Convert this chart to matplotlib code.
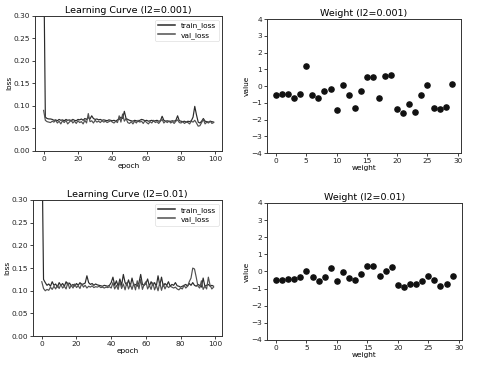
import matplotlib
matplotlib.use("Agg")
import matplotlib.pyplot as plt
import numpy as np

epochs = list(range(100))
weight_idx = list(range(30))

train_loss_001 = [0.45, 0.075, 0.072, 0.071, 0.071, 0.070, 0.068, 0.069, 0.067, 0.070,
                  0.068, 0.069, 0.067, 0.070, 0.068, 0.069, 0.066, 0.070, 0.068, 0.067,
                  0.070, 0.069, 0.071, 0.068, 0.072, 0.070, 0.074, 0.071, 0.078, 0.072,
                  0.070, 0.071, 0.069, 0.070, 0.068, 0.069, 0.068, 0.067, 0.069, 0.068,
                  0.067, 0.068, 0.066, 0.069, 0.070, 0.075, 0.072, 0.088, 0.072, 0.070,
                  0.068, 0.067, 0.066, 0.068, 0.067, 0.065, 0.068, 0.070, 0.069, 0.067,
                  0.068, 0.066, 0.067, 0.068, 0.066, 0.067, 0.068, 0.066, 0.067, 0.077,
                  0.068, 0.066, 0.067, 0.065, 0.066, 0.067, 0.066, 0.068, 0.078, 0.067,
                  0.066, 0.065, 0.066, 0.064, 0.066, 0.065, 0.067, 0.075, 0.099, 0.080,
                  0.064, 0.062, 0.066, 0.072, 0.066, 0.065, 0.064, 0.066, 0.065, 0.064]
val_loss_001 = [0.090, 0.068, 0.065, 0.064, 0.063, 0.066, 0.064, 0.068, 0.062, 0.066,
                0.060, 0.067, 0.063, 0.068, 0.060, 0.064, 0.069, 0.062, 0.066, 0.061,
                0.067, 0.063, 0.065, 0.060, 0.068, 0.062, 0.083, 0.065, 0.067, 0.062,
                0.068, 0.064, 0.066, 0.063, 0.067, 0.064, 0.066, 0.063, 0.065, 0.067,
                0.064, 0.062, 0.066, 0.063, 0.078, 0.064, 0.082, 0.066, 0.072, 0.063,
                0.061, 0.065, 0.060, 0.066, 0.062, 0.068, 0.064, 0.066, 0.061, 0.067,
                0.063, 0.060, 0.065, 0.062, 0.068, 0.063, 0.065, 0.061, 0.066, 0.070,
                0.062, 0.066, 0.063, 0.067, 0.062, 0.065, 0.061, 0.066, 0.069, 0.063,
                0.062, 0.065, 0.061, 0.064, 0.063, 0.060, 0.066, 0.064, 0.068, 0.062,
                0.055, 0.056, 0.063, 0.070, 0.060, 0.064, 0.062, 0.066, 0.061, 0.063]
train_loss_01 = [0.45, 0.125, 0.118, 0.112, 0.115, 0.110, 0.120, 0.112, 0.115, 0.108,
                 0.118, 0.112, 0.116, 0.110, 0.120, 0.113, 0.117, 0.111, 0.114, 0.110,
                 0.116, 0.112, 0.118, 0.113, 0.115, 0.117, 0.133, 0.118, 0.114, 0.116,
                 0.112, 0.115, 0.113, 0.112, 0.111, 0.110, 0.112, 0.111, 0.110, 0.112,
                 0.118, 0.130, 0.112, 0.122, 0.110, 0.126, 0.112, 0.136, 0.118, 0.112,
                 0.124, 0.110, 0.128, 0.112, 0.114, 0.110, 0.118, 0.136, 0.114, 0.112,
                 0.116, 0.126, 0.110, 0.120, 0.112, 0.118, 0.110, 0.133, 0.112, 0.130,
                 0.110, 0.116, 0.112, 0.120, 0.110, 0.114, 0.112, 0.118, 0.111, 0.110,
                 0.108, 0.110, 0.112, 0.114, 0.110, 0.116, 0.112, 0.118, 0.112, 0.110,
                 0.114, 0.112, 0.108, 0.128, 0.110, 0.112, 0.114, 0.110, 0.112, 0.110]
val_loss_01 = [0.120, 0.105, 0.100, 0.103, 0.101, 0.108, 0.103, 0.110, 0.104, 0.112,
               0.105, 0.114, 0.106, 0.110, 0.104, 0.118, 0.105, 0.112, 0.106, 0.115,
               0.107, 0.111, 0.105, 0.116, 0.108, 0.112, 0.106, 0.110, 0.108, 0.111,
               0.107, 0.109, 0.108, 0.110, 0.107, 0.108, 0.106, 0.108, 0.107, 0.109,
               0.106, 0.118, 0.104, 0.112, 0.103, 0.120, 0.105, 0.115, 0.102, 0.118,
               0.104, 0.114, 0.103, 0.116, 0.102, 0.122, 0.104, 0.125, 0.103, 0.114,
               0.120, 0.104, 0.112, 0.103, 0.118, 0.102, 0.112, 0.100, 0.118, 0.101,
               0.115, 0.104, 0.112, 0.107, 0.110, 0.108, 0.106, 0.108, 0.104, 0.102,
               0.106, 0.104, 0.112, 0.106, 0.110, 0.120, 0.128, 0.150, 0.148, 0.130,
               0.110, 0.106, 0.122, 0.103, 0.110, 0.104, 0.130, 0.112, 0.104, 0.108]

weights_001 = [-0.5, -0.45, -0.45, -0.72, -0.48, 1.22, -0.55, -0.7, -0.3, -0.15,
               -1.4, 0.05, -0.52, -1.3, -0.28, 0.52, 0.52, -0.68, 0.6, 0.65,
               -1.38, -1.58, -1.08, -1.52, -0.5, 0.08, -1.3, -1.35, -1.25, 0.12]
weights_01 = [-0.48, -0.5, -0.45, -0.45, -0.32, 0.05, -0.35, -0.58, -0.32, 0.22,
              -0.55, -0.05, -0.4, -0.5, -0.15, 0.32, 0.32, -0.25, 0.02, 0.28,
              -0.8, -0.92, -0.75, -0.75, -0.58, -0.25, -0.5, -0.88, -0.72, -0.28]

plt.rcParams['font.family'] = ['DejaVu Sans']
fig = plt.figure(figsize=(4.8, 3.69), dpi=100)

ax_tl = fig.add_axes([0.073, 0.591, 0.390, 0.366])
ax_tr = fig.add_axes([0.556, 0.585, 0.404, 0.363])
ax_bl = fig.add_axes([0.069, 0.089, 0.394, 0.369])
ax_br = fig.add_axes([0.556, 0.079, 0.406, 0.371])

fs_tick = 5.3
fs_label = 5.3
fs_title = 6.8

def style(ax):
    ax.tick_params(labelsize=fs_tick, length=2, width=0.6, pad=1.5, colors='#222222')
    for s in ax.spines.values():
        s.set_linewidth(0.7)
        s.set_color('#333333')

for ax, tr, va, title in [(ax_tl, train_loss_001, val_loss_001, 'Learning Curve (l2=0.001)'),
                          (ax_bl, train_loss_01, val_loss_01, 'Learning Curve (l2=0.01)')]:
    ax.plot(epochs, tr, color='#2a2a2a', lw=0.85, label='train_loss')
    ax.plot(epochs, va, color='#505050', lw=0.85, label='val_loss')
    ax.set_ylim(0, 0.3)
    ax.set_xlim(-5, 104)
    ax.set_xticks([0, 20, 40, 60, 80, 100])
    ax.set_yticks([0.0, 0.05, 0.10, 0.15, 0.20, 0.25, 0.30])
    ax.set_yticklabels(['0.00', '0.05', '0.10', '0.15', '0.20', '0.25', '0.30'])
    ax.set_title(title, fontsize=fs_title, pad=2)
    ax.set_xlabel('epoch', fontsize=fs_label, labelpad=1)
    ax.set_ylabel('loss', fontsize=fs_label, labelpad=1)
    leg = ax.legend(loc='upper right', fontsize=fs_tick, handlelength=2.2,
                    frameon=True, borderpad=0.4, labelspacing=0.3)
    leg.get_frame().set_linewidth(0.4)
    for h in leg.get_lines():
        h.set_linewidth(1.1)
    style(ax)

for ax, w, title in [(ax_tr, weights_001, 'Weight (l2=0.001)'),
                     (ax_br, weights_01, 'Weight (l2=0.01)')]:
    ax.scatter(weight_idx, w, s=14, color='#111111')
    ax.set_ylim(-4, 4)
    ax.set_xlim(-1.5, 30.5)
    ax.set_xticks([0, 5, 10, 15, 20, 25, 30])
    ax.set_yticks([-4, -3, -2, -1, 0, 1, 2, 3, 4])
    ax.set_title(title, fontsize=fs_title, pad=2)
    ax.set_xlabel('weight', fontsize=fs_label, labelpad=1)
    ax.set_ylabel('value', fontsize=fs_label, labelpad=1)
    style(ax)

fig.savefig('out.png', dpi=100)
